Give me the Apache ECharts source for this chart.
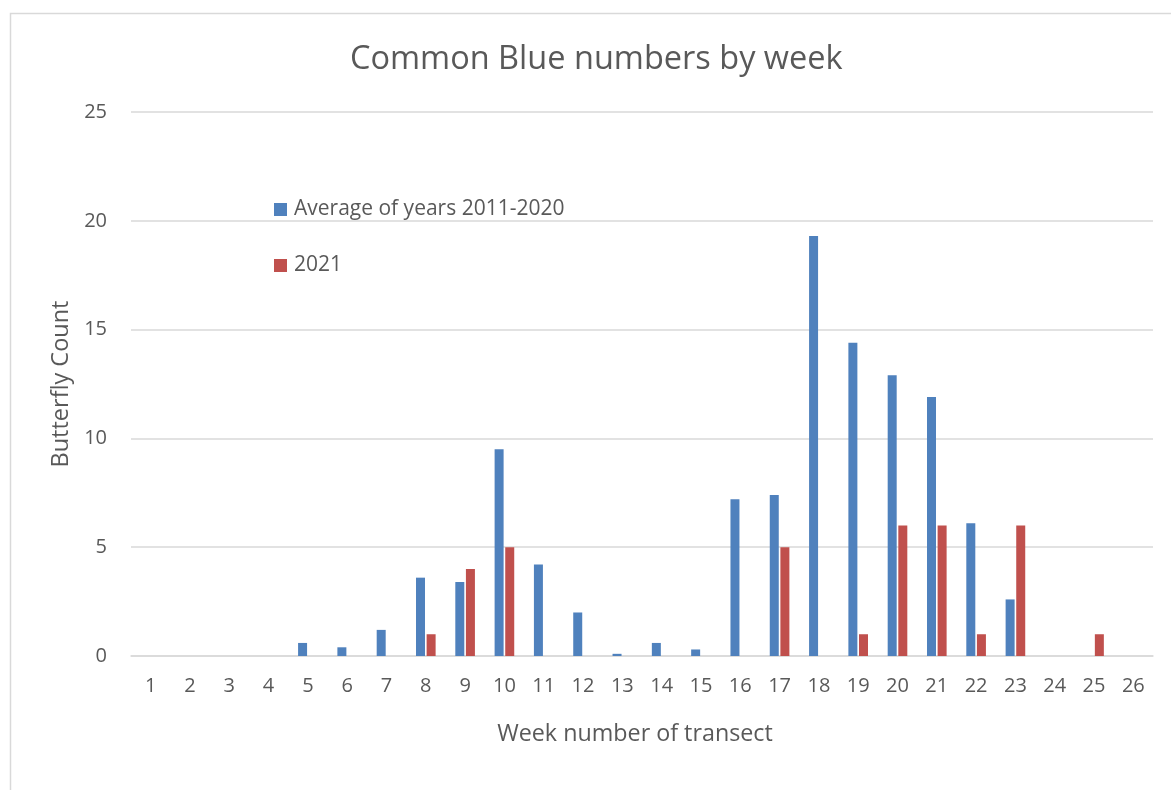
<!DOCTYPE html>
<html lang="en">
  <head>
    <meta charset="UTF-8" />
    <title>Common Blue</title>
    <script src="https://cdn.jsdelivr.net/npm/echarts@6/dist/echarts.min.js"></script>
    <style>
      body {
        margin: 0;
        padding: 0;
        background: #fff;
      }

      #main {
        width: 1171px;
        height: 790px;
      }
    </style>
  </head>

  <body>
    <div id="main"></div>
    <script>
      const weeks = [
        "1", "2", "3", "4", "5", "6", "7", "8", "9", "10", "11", "12", "13",
        "14", "15", "16", "17", "18", "19", "20", "21", "22", "23", "24", "25", "26",
      ];
      const average = [
        0, 0, 0, 0, 0.6, 0.4, 1.2, 3.6, 3.4, 9.5, 4.2, 2, 0.1,
        0.6, 0.3, 7.2, 7.4, 19.3, 14.4, 12.9, 11.9, 6.1, 2.6, 0, 0, 0,
      ];
      const year2021 = [
        0, 0, 0, 0, 0, 0, 0, 1, 4, 5, 0, 0, 0,
        0, 0, 0, 5, 0, 1, 6, 6, 1, 6, 0, 1, 0,
      ];

      const font = "'Open Sans', Lato, sans-serif";
      const textColor = "#595959";

      const myChart = echarts.init(document.getElementById("main"));
      const option = {
        animation: false,
        textStyle: { fontFamily: font },
        graphic: [
          {
            type: "rect",
            shape: { x: 10.5, y: 13.5, width: 1180, height: 800 },
            style: { fill: "none", stroke: "#d9d9d9", lineWidth: 1.5 },
            silent: true,
          },
        ],
        title: {
          text: "Common Blue numbers by week",
          left: 345,
          top: 38,
          textStyle: {
            fontFamily: font,
            fontSize: 32.5,
            fontWeight: "normal",
            color: textColor,
          },
        },
        legend: {
          orient: "vertical",
          left: 269,
          top: 194,
          itemWidth: 13,
          itemHeight: 13,
          itemGap: 35,
          icon: "rect",
          textStyle: {
            fontFamily: font,
            fontSize: 21,
            color: textColor,
            padding: [0, 0, 0, 2],
          },
        },
        grid: {
          left: 131,
          right: 18,
          top: 112,
          bottom: 134,
        },
        xAxis: {
          type: "category",
          data: weeks,
          name: "Week number of transect",
          nameLocation: "middle",
          nameGap: 67,
          nameTextStyle: {
            fontFamily: font,
            fontSize: 23.3,
            color: textColor,
            padding: [0, 14, 0, 0],
          },
          axisTick: { show: false },
          axisLine: { lineStyle: { color: "#d9d9d9", width: 1.5 } },
          axisLabel: { fontSize: 20, color: textColor, margin: 20 },
        },
        yAxis: {
          type: "value",
          min: 0,
          max: 25,
          interval: 5,
          name: "Butterfly Count",
          nameLocation: "middle",
          nameGap: 57,
          nameTextStyle: { fontFamily: font, fontSize: 23.5, color: textColor },
          axisLabel: { fontSize: 20, color: textColor, margin: 24 },
          splitLine: { lineStyle: { color: "#d9d9d9", width: 1.5 } },
        },
        series: [
          {
            name: "Average of years 2011-2020",
            type: "bar",
            data: average,
            barWidth: 9,
            barGap: "18%",
            itemStyle: { color: "#4f81bd" },
          },
          {
            name: "2021",
            type: "bar",
            data: year2021,
            barWidth: 9,
            itemStyle: { color: "#c0504d" },
          },
        ],
      };

      myChart.setOption(option);
    </script>
  </body>
</html>
